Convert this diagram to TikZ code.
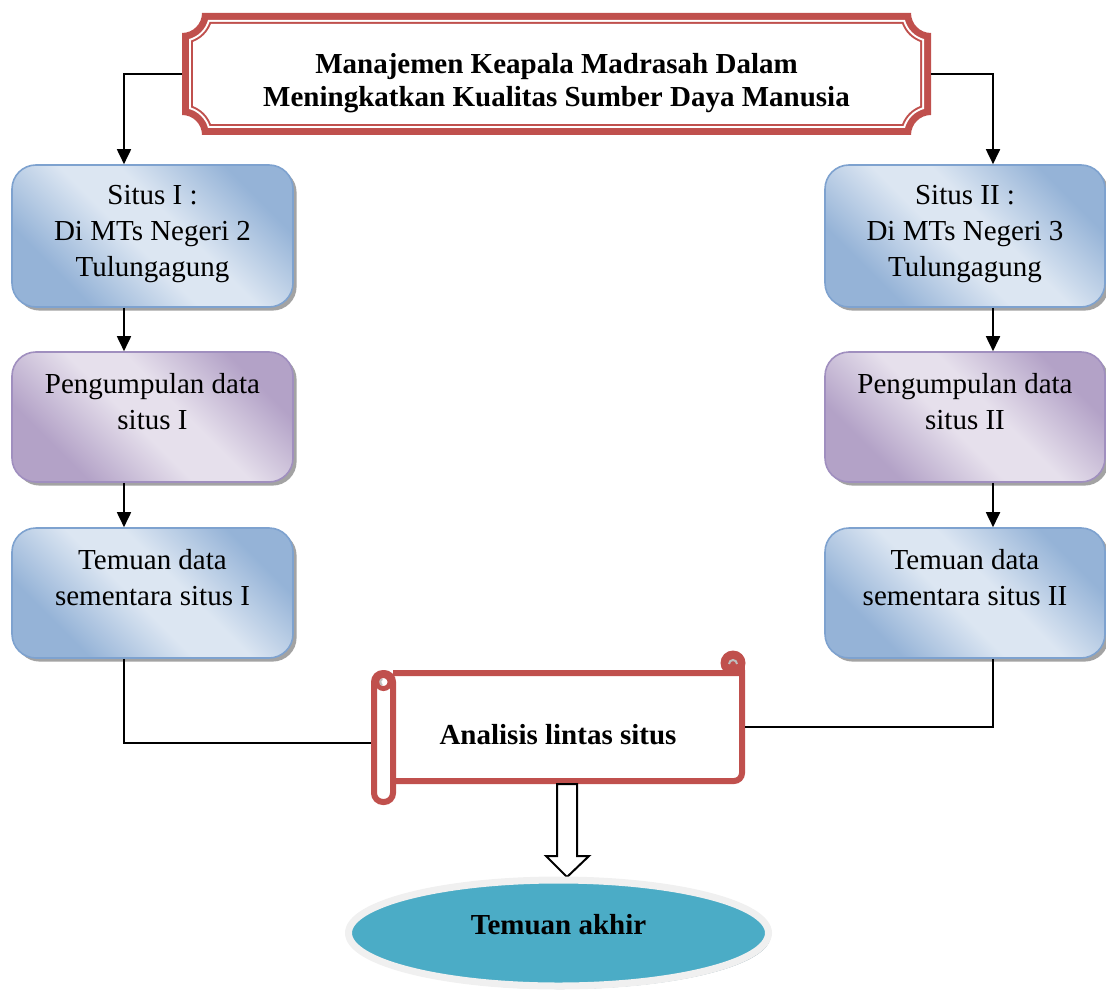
\documentclass[tikz,border=0pt]{standalone}
\usepackage{fontspec}
\setmainfont{Liberation Serif}
\usetikzlibrary{arrows.meta,shapes.geometric,shadows}

\definecolor{merah}{HTML}{C0504D}
\definecolor{biruTua}{HTML}{95B3D7}
\definecolor{biruMuda}{HTML}{DCE6F2}
\definecolor{biruGaris}{HTML}{7EA2CF}
\definecolor{unguTua}{HTML}{B3A2C7}
\definecolor{unguMuda}{HTML}{E6E0EC}
\definecolor{unguGaris}{HTML}{A08FBF}
\definecolor{tosca}{HTML}{4BACC6}
\definecolor{bayangan}{HTML}{8AA4AD}

\pgfdeclarehorizontalshading{gradbiru}{100bp}{color(0bp)=(biruTua); color(28bp)=(biruTua); color(46bp)=(biruMuda); color(56bp)=(biruMuda); color(74bp)=(biruTua); color(100bp)=(biruTua)}
\pgfdeclarehorizontalshading{gradungu}{100bp}{color(0bp)=(unguTua); color(28bp)=(unguTua); color(46bp)=(unguMuda); color(56bp)=(unguMuda); color(74bp)=(unguTua); color(100bp)=(unguTua)}

% geser teks di dalam node tanpa mengubah ukurannya
\newcommand{\geser}[2]{\raisebox{#1}[\height][\depth]{\begin{tabular}{@{}c@{}}#2\end{tabular}}}

% bingkai plakat judul, #1 = jarak ke dalam, #2 = warna
\newcommand{\plakat}[2]{%
\pgfmathsetmacro{\pr}{20+#1}%
\pgfmathsetmacro{\ps}{sqrt(\pr*\pr-#1*#1)}%
\pgfmathsetmacro{\pa}{asin(#1/\pr)}%
\fill[#2] (931-\ps,979-#1) -- (182+\ps,979-#1)
  arc[start angle=-\pa, end angle=\pa-90, radius=\pr]
  -- (182+#1,857+\ps)
  arc[start angle=90-\pa, end angle=\pa, radius=\pr]
  -- (931-\ps,857+#1)
  arc[start angle=180-\pa, end angle=90+\pa, radius=\pr]
  -- (931-#1,979-\ps)
  arc[start angle=270-\pa, end angle=180+\pa, radius=\pr]
  -- cycle;}

\begin{document}
\begin{tikzpicture}[x=0.5pt,y=0.5pt,
  font=\fontsize{14.5}{18}\selectfont,
  panah/.style={-{Triangle[length=7.5pt,width=7pt]}, line width=0.9pt},
  garis/.style={line width=0.9pt},
  bayang/.style={drop shadow={shadow xshift=1.8pt, shadow yshift=-1.8pt, fill=black!40, opacity=0.9}},
  kotakbiru/.style={rectangle, rounded corners=12pt, shading=gradbiru, shading angle=45, draw=biruGaris, line width=0.8pt, bayang},
  kotakungu/.style={rectangle, rounded corners=12pt, shading=gradungu, shading angle=45, draw=unguGaris, line width=0.8pt, bayang},
  judulbox/.style={rectangle, minimum width=374.5pt, minimum height=61pt, font=\fontsize{14.5}{16.5}\selectfont\bfseries},
  gulung/.style={draw=merah, line width=3pt, fill=white}]
\useasboundingbox (0,0) rectangle (1106,992);

%judul
\plakat{0}{merah}
\plakat{7}{white}
\plakat{9}{merah}
\plakat{11}{white}
\node[judulbox] (judul) at (556.5,918) {\geser{-4.5pt}{Manajemen Keapala Madrasah Dalam\\Meningkatkan Kualitas Sumber Daya Manusia}};
\coordinate (kiri) at (124,0);
\coordinate (kanan) at (993,0);

%situs I
\node[kotakbiru, minimum width=140.5pt, minimum height=71pt] (situsA) at (152.5,756) {\geser{1.5pt}{Situs I :\\Di MTs Negeri 2\\Tulungagung}};
\node[kotakungu, minimum width=140.5pt, minimum height=65pt] (dataA) at (152.5,575) {\geser{6.5pt}{Pengumpulan data\\situs I}};
\node[kotakbiru, minimum width=140.5pt, minimum height=65pt] (temuanA) at (152.5,399) {\geser{6.5pt}{Temuan data\\sementara situs I}};

%situs II
\node[kotakbiru, minimum width=140pt, minimum height=71pt] (situsB) at (965,756) {\geser{1.5pt}{Situs II :\\Di MTs Negeri 3\\Tulungagung}};
\node[kotakungu, minimum width=140pt, minimum height=65pt] (dataB) at (965,575) {\geser{6.5pt}{Pengumpulan data\\situs II}};
\node[kotakbiru, minimum width=140pt, minimum height=65pt] (temuanB) at (965,399) {\geser{6.5pt}{Temuan data\\sementara situs II}};

%panah
\draw[panah] (judul.west) -| (situsA.north -| kiri);
\draw[panah] (judul.east) -| (situsB.north -| kanan);
\draw[panah] (situsA.south -| kiri) -- (dataA.north -| kiri);
\draw[panah] (dataA.south -| kiri) -- (temuanA.north -| kiri);
\draw[panah] (situsB.south -| kanan) -- (dataB.north -| kanan);
\draw[panah] (dataB.south -| kanan) -- (temuanB.north -| kanan);

%analisis lintas situs
\draw[gulung] (393,319) -- (742,319) [rounded corners=4pt] -- (742,211) -- (393,211);
\draw[merah, line width=3pt] (742,319) -- (742,329);
\fill[merah] (733,329) circle (12.5);
\draw[black!25, line width=1pt] (729,328) arc[start angle=180, end angle=0, radius=4];
\draw[gulung, rounded corners=4.5pt] (374,319) rectangle (393,190);
\draw[merah, line width=2.5pt] (383.5,310) circle (6.5);
\draw[black!25, line width=1pt] (382,313) arc[start angle=120, end angle=240, radius=3.5];
\node[rectangle, minimum width=187pt, minimum height=54pt, font=\fontsize{14.5}{18}\selectfont\bfseries] (analisis) at (558,265) {\geser{-5pt}{Analisis lintas situs}};
\draw[garis] (temuanA.south -| kiri) |- ([yshift=-8pt]analisis.west);
\draw[garis] (temuanB.south -| kanan) |- (analisis.east);

%temuan akhir
\draw[line width=1pt, fill=white] (557,208) -- (577,208) -- (577,136) -- (589,136) -- (567,115) -- (546,136) -- (557,136) -- cycle;
\node[ellipse, minimum width=210pt, minimum height=53pt, fill=tosca, draw=black!6, line width=3.5pt,
  drop shadow={shadow xshift=1pt, shadow yshift=-1.5pt, fill=bayangan, opacity=1},
  font=\fontsize{14.5}{18}\selectfont\bfseries] (akhir) at (558.5,59) {\geser{3pt}{Temuan akhir}};
\end{tikzpicture}
\end{document}
